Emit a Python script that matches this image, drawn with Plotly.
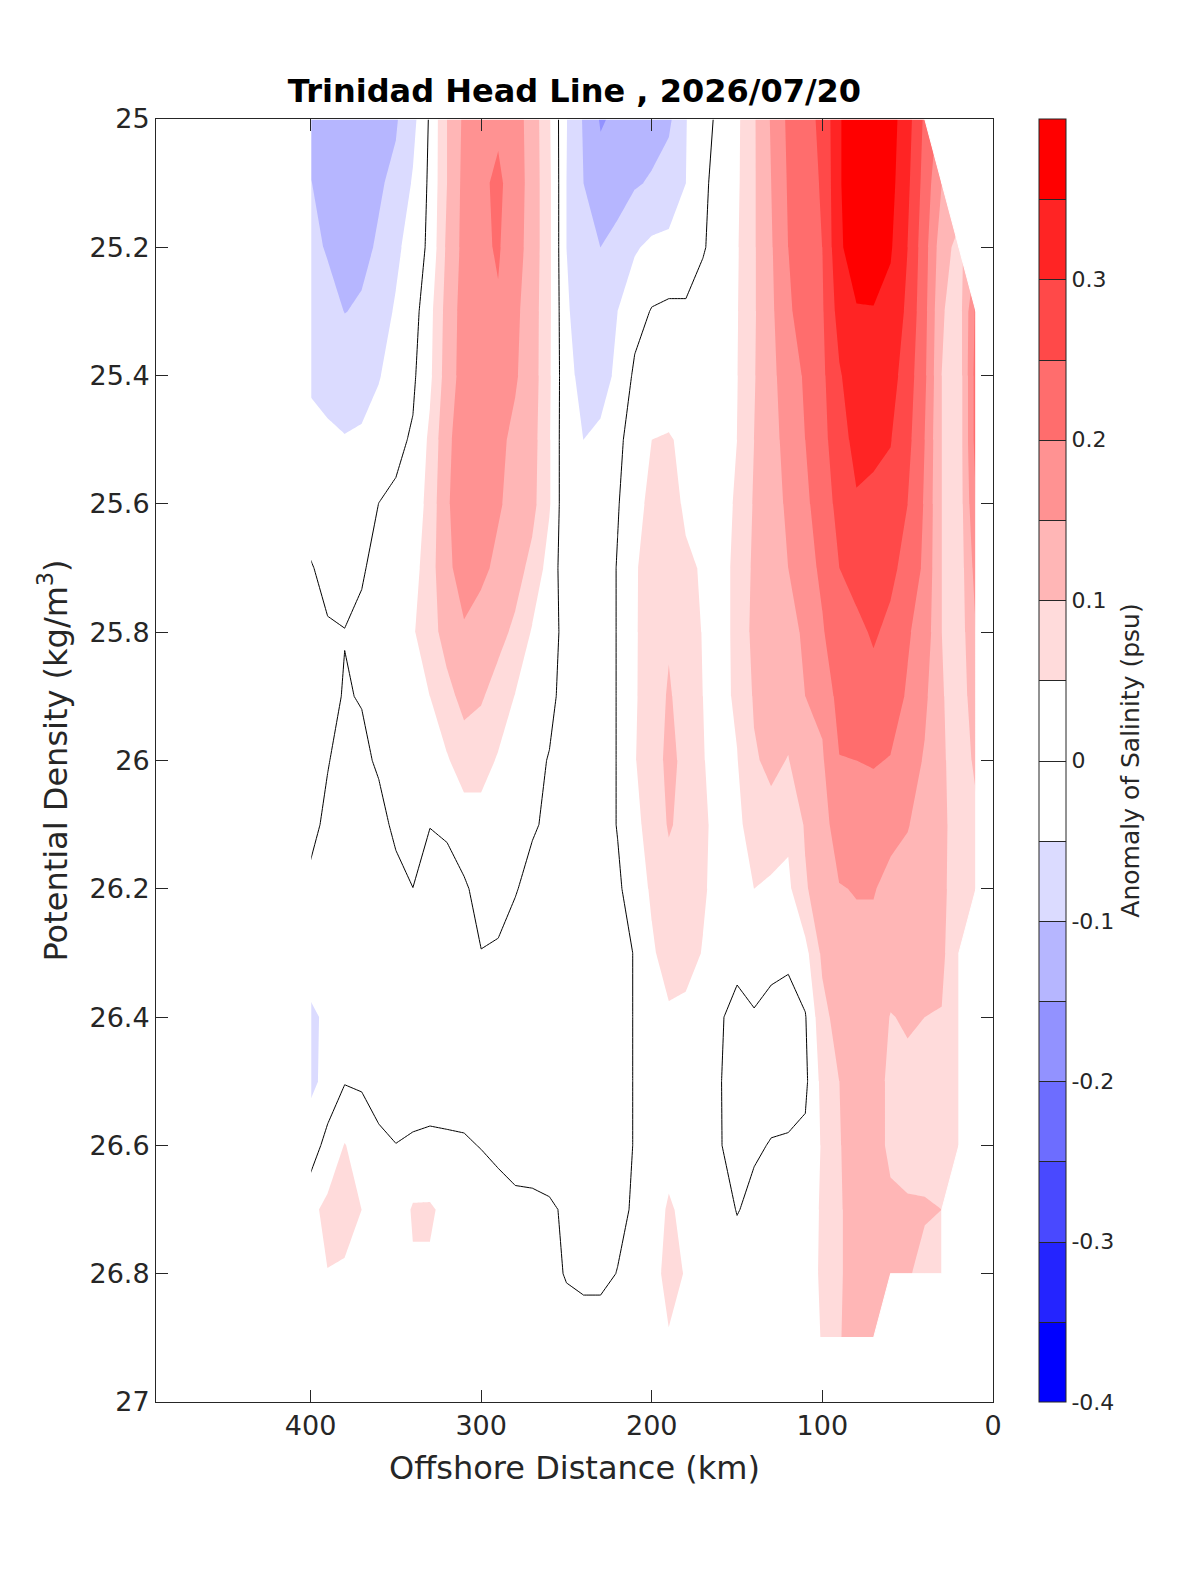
import numpy as np
import plotly.graph_objects as go

nan = float("nan")

# ---------------- data ----------------
distance_km = [400, 390, 380, 370, 360, 350, 340, 330, 320, 310,
               300, 290, 280, 270, 260, 250, 240, 230, 220, 210,
               200, 190, 180, 170, 160, 150, 140, 130, 120, 110,
               100, 90, 80, 70, 60, 50, 40, 30, 20, 10]

density_levels = [25.0, 25.1, 25.2, 25.3, 25.4, 25.5, 25.6, 25.7, 25.8, 25.9,
                  26.0, 26.1, 26.2, 26.3, 26.4, 26.5, 26.6, 26.7, 26.8, 26.9]

# salinity anomaly (psu) profile per station, one value per density level
anomaly_by_station = [
    [-0.125, -0.098, -0.085, -0.07, -0.055, -0.04, -0.02, 0.003, 0.02, 0.03, 0.025, 0.015, -0.012, -0.035, -0.055, -0.058, -0.03, 0.04, 0.03, 0.02],   # 400
    [-0.13, -0.12, -0.105, -0.08, -0.06, -0.045, -0.03, -0.012, 0.004, 0.01, 0.003, -0.012, -0.03, -0.04, -0.045, -0.04, 0.02, 0.06, 0.049, 0.03],      # 390
    [-0.14, -0.13, -0.115, -0.101, -0.07, -0.048, -0.03, -0.015, 0.001, -0.0025, -0.02, -0.035, -0.04, -0.045, -0.04, -0.003, 0.052, 0.065, 0.045, 0.03],  # 380
    [-0.135, -0.125, -0.11, -0.095, -0.065, -0.045, -0.025, -0.005, 0.01, 0.002, -0.008, -0.03, -0.04, -0.045, -0.04, -0.006, 0.03, 0.05, 0.035, 0.025],  # 370
    [-0.115, -0.105, -0.095, -0.07, -0.053, -0.03, 0.0005, 0.015, 0.025, 0.02, 0.005, -0.012, -0.03, -0.04, -0.035, -0.02, 0.01, 0.03, 0.02, 0.015],     # 360
    [-0.105, -0.09, -0.06, -0.045, -0.03, -0.01, 0.007, 0.025, 0.04, 0.035, 0.02, 0.008, -0.012, -0.03, -0.035, -0.03, 0.001, 0.02, 0.02, 0.015],        # 350
    [-0.065, -0.045, -0.03, -0.02, -0.008, 0.005, 0.015, 0.03, 0.045, 0.04, 0.03, 0.015, -0.0003, -0.02, -0.03, -0.03, 0.008, 0.055, 0.045, 0.02],       # 340
    [0.007, 0.01, 0.012, 0.035, 0.04, 0.06, 0.07, 0.08, 0.08, 0.05, 0.035, 0.0006, -0.01, -0.02, -0.03, -0.03, 0.013, 0.055, 0.045, 0.02],               # 330
    [0.1, 0.1, 0.11, 0.12, 0.125, 0.14, 0.145, 0.14, 0.12, 0.085, 0.045, 0.01, -0.026, -0.03, -0.03, -0.03, 0.01, 0.04, 0.035, 0.02],                    # 320
    [0.16, 0.165, 0.165, 0.17, 0.17, 0.175, 0.175, 0.17, 0.145, 0.115, 0.075, 0.025, -0.006, -0.025, -0.03, -0.025, 0.006, 0.03, 0.03, 0.02],            # 310
    [0.18, 0.19, 0.19, 0.19, 0.185, 0.18, 0.175, 0.16, 0.13, 0.105, 0.07, 0.03, 0.015, -0.001, -0.02, -0.025, -0.002, 0.03, 0.025, 0.02],                # 300
    [0.19, 0.21, 0.205, 0.195, 0.18, 0.16, 0.155, 0.14, 0.115, 0.08, 0.045, 0.02, 0.012, -0.0036, -0.02, -0.025, -0.01, 0.018, 0.02, 0.02],             # 290
    [0.17, 0.175, 0.17, 0.16, 0.155, 0.14, 0.135, 0.12, 0.09, 0.048, 0.025, 0.01, 0.003, -0.02, -0.025, -0.025, -0.02, 0.012, 0.02, 0.02],               # 280
    [0.13, 0.13, 0.13, 0.125, 0.125, 0.12, 0.115, 0.085, 0.045, 0.03, 0.01, 0.005, -0.015, -0.02, -0.025, -0.025, -0.02, 0.01, 0.02, 0.02],              # 270
    [0.055, 0.06, 0.06, 0.06, 0.058, 0.055, 0.055, 0.03, 0.025, 0.01, -0.002, -0.008, -0.02, -0.025, -0.03, -0.03, -0.04, 0.01, 0.02, 0.025],            # 260
    [-0.048, -0.05, -0.05, -0.045, -0.04, -0.04, -0.04, -0.03, -0.02, -0.015, -0.02, -0.02, -0.025, -0.03, -0.03, -0.025, -0.02, -0.01, -0.005, 0.03],   # 250
    [-0.105, -0.1, -0.085, -0.07, -0.06, -0.05, -0.04, -0.035, -0.03, -0.03, -0.03, -0.035, -0.035, -0.035, -0.035, -0.03, -0.025, -0.02, -0.02, 0.04],  # 240
    [-0.155, -0.13, -0.1, -0.075, -0.06, -0.045, -0.04, -0.03, -0.03, -0.03, -0.03, -0.03, -0.035, -0.04, -0.04, -0.035, -0.03, -0.025, -0.02, 0.04],    # 230
    [-0.14, -0.12, -0.085, -0.05, -0.045, -0.015, -0.003, 0.003, 0.003, 0.003, 0.003, 0.003, -0.01, -0.03, -0.03, -0.03, -0.03, -0.02, 0.0025, 0.03],    # 220
    [-0.13, -0.105, -0.055, -0.02, 0.01, 0.03, 0.03, 0.045, 0.045, 0.045, 0.048, 0.04, 0.03, 0.004, 0.004, 0.004, 0.004, 0.01, 0.02, 0.03],              # 210
    [-0.12, -0.095, -0.04, 0.003, 0.03, 0.05, 0.065, 0.07, 0.072, 0.075, 0.07, 0.065, 0.055, 0.045, 0.035, 0.025, 0.02, 0.03, 0.02, 0.03],               # 200
    [-0.11, -0.075, -0.04, 0.01, 0.035, 0.052, 0.075, 0.085, 0.095, 0.105, 0.115, 0.105, 0.08, 0.065, 0.045, 0.035, 0.035, 0.055, 0.075, 0.045],         # 190
    [-0.052, -0.05, -0.04, 0.01, 0.03, 0.045, 0.04, 0.06, 0.07, 0.08, 0.085, 0.085, 0.075, 0.065, 0.04, 0.03, 0.03, 0.04, 0.045, 0.035],                 # 180
    [-0.015, -0.01, -0.004, 0.02, 0.03, 0.035, 0.04, 0.045, 0.048, 0.05, 0.052, 0.055, 0.055, 0.048, 0.035, 0.03, 0.03, 0.03, 0.03, 0.03],               # 170
    [0.01, 0.02, 0.02, 0.03, 0.03, 0.035, 0.035, 0.035, 0.035, 0.035, 0.035, 0.04, 0.035, 0.03, 0.003, 0.002, 0.002, 0.02, 0.03, 0.03],                  # 160
    [0.04, 0.042, 0.045, 0.047, 0.048, 0.05, 0.055, 0.06, 0.06, 0.058, 0.048, 0.035, 0.025, 0.01, -0.01, -0.02, -0.015, -0.002, 0.02, 0.02],             # 150
    [0.095, 0.095, 0.095, 0.095, 0.097, 0.1, 0.105, 0.11, 0.115, 0.105, 0.095, 0.08, 0.05, 0.03, -0.005, -0.012, -0.005, 0.01, 0.02, 0.02],              # 140
    [0.155, 0.15, 0.145, 0.14, 0.135, 0.13, 0.125, 0.125, 0.12, 0.115, 0.11, 0.085, 0.04, 0.015, -0.015, -0.015, 0.002, 0.02, 0.03, 0.03],               # 130
    [0.21, 0.205, 0.2, 0.195, 0.18, 0.17, 0.16, 0.15, 0.13, 0.12, 0.098, 0.06, 0.04, 0.01, -0.02, -0.02, 0.005, 0.02, 0.03, 0.03],                       # 120
    [0.235, 0.23, 0.225, 0.215, 0.205, 0.2, 0.19, 0.18, 0.16, 0.15, 0.13, 0.105, 0.095, 0.035, -0.003, -0.01, 0.01, 0.03, 0.035, 0.035],                 # 110
    [0.26, 0.255, 0.25, 0.245, 0.24, 0.235, 0.225, 0.21, 0.195, 0.16, 0.145, 0.135, 0.125, 0.11, 0.085, 0.065, 0.055, 0.055, 0.055, 0.052],              # 100
    [0.345, 0.345, 0.34, 0.32, 0.295, 0.28, 0.265, 0.25, 0.235, 0.22, 0.198, 0.17, 0.148, 0.14, 0.12, 0.1, 0.097, 0.095, 0.095, 0.098],                  # 90
    [0.39, 0.39, 0.385, 0.345, 0.33, 0.315, 0.295, 0.265, 0.24, 0.225, 0.2, 0.175, 0.152, 0.14, 0.13, 0.125, 0.125, 0.12, 0.12, 0.115],                  # 80
    [0.39, 0.39, 0.38, 0.347, 0.335, 0.31, 0.29, 0.275, 0.255, 0.235, 0.203, 0.18, 0.152, 0.14, 0.125, 0.12, 0.12, 0.115, 0.11, 0.105],                  # 70
    [0.37, 0.365, 0.355, 0.335, 0.32, 0.302, 0.285, 0.26, 0.24, 0.22, 0.198, 0.16, 0.14, 0.125, 0.098, 0.09, 0.09, 0.11, 0.105, nan],                    # 60
    [0.32, 0.31, 0.3, 0.29, 0.275, 0.265, 0.25, 0.235, 0.205, 0.195, 0.175, 0.152, 0.135, 0.125, 0.105, 0.09, 0.085, 0.105, 0.105, nan],                 # 50
    [0.24, 0.23, 0.22, 0.215, 0.21, 0.2, 0.195, 0.19, 0.18, 0.16, 0.145, 0.135, 0.125, 0.12, 0.1, 0.08, 0.08, 0.105, 0.085, nan],                        # 40
    [nan, 0.15, 0.12, 0.105, 0.1, 0.1, 0.1, 0.1, 0.1, 0.105, 0.11, 0.115, 0.115, 0.11, 0.098, 0.075, 0.075, 0.1, 0.075, nan],                            # 30
    [nan, nan, 0.085, 0.075, 0.07, 0.07, 0.07, 0.07, 0.07, 0.07, 0.07, 0.07, 0.065, 0.06, 0.058, 0.055, 0.052, nan, nan, nan],                           # 20
    [nan, nan, nan, 0.21, 0.22, 0.22, 0.2, 0.17, 0.15, 0.13, 0.11, 0.09, 0.06, nan, nan, nan, nan, nan, nan, nan],                                       # 10
]

# colour of each 0.05 psu band from -0.4 to 0.4
band_colors = ["rgb(0,0,255)", "rgb(36,36,255)", "rgb(73,73,255)", "rgb(109,109,255)",
               "rgb(146,146,255)", "rgb(182,182,255)", "rgb(219,219,255)", "rgb(255,255,255)",
               "rgb(255,255,255)", "rgb(255,219,219)", "rgb(255,182,182)", "rgb(255,146,146)",
               "rgb(255,109,109)", "rgb(255,73,73)", "rgb(255,36,36)", "rgb(255,0,0)"]

colorbar_tickvals = [-0.4, -0.3, -0.2, -0.1, 0, 0.1, 0.2, 0.3]
colorbar_ticktext = ["-0.4", "-0.3", "-0.2", "-0.1", "0", "0.1", "0.2", "0.3"]
density_tickvals = [25.0, 25.2, 25.4, 25.6, 25.8, 26.0, 26.2, 26.4, 26.6, 26.8, 27.0]
density_ticktext = ["25", "25.2", "25.4", "25.6", "25.8", "26", "26.2", "26.4", "26.6", "26.8", "27"]
distance_tickvals = [400, 300, 200, 100, 0]
distance_ticktext = ["400", "300", "200", "100", "0"]

# ---------------- build ----------------
FONT = "DejaVu Sans"
AX = "#262626"

z = np.array(anomaly_by_station, dtype=float).T          # rows = density, cols = station
x_plot = np.array(distance_km[::-1], dtype=float)          # ascending distance
z_plot = z[:, ::-1]
y_plot = np.array(density_levels, dtype=float)
z_list = [[None if np.isnan(v) else float(v) for v in row] for row in z_plot]

n = len(band_colors)
colorscale = [[k / (n - 1), c] for k, c in enumerate(band_colors)]

fig = go.Figure()

# filled anomaly field
fig.add_trace(go.Contour(
    x=x_plot, y=y_plot, z=z_list,
    autocontour=False,
    contours=dict(start=-0.35, end=0.35, size=0.05, coloring="fill", showlines=False),
    colorscale=colorscale, zauto=False, zmin=-0.4, zmax=0.4,
    line=dict(width=0, smoothing=0),
    showscale=False, hoverinfo="skip",
))

# zero anomaly contour line
fig.add_trace(go.Contour(
    x=x_plot, y=y_plot, z=z_list,
    autocontour=False,
    contours=dict(start=0, end=0, size=1, coloring="none", showlines=True),
    line=dict(color="black", width=1, smoothing=0),
    showscale=False, hoverinfo="skip",
))

# blank out cells without data (same rule as a triangulated contour fill)
missing = np.isnan(z_plot)
mx, my = [], []
for i in range(len(y_plot) - 1):
    for j in range(len(x_plot) - 1):
        corners = [(j, i), (j + 1, i), (j + 1, i + 1), (j, i + 1)]
        flags = [bool(missing[ci, cj]) for (cj, ci) in corners]
        cnt = sum(flags)
        if cnt == 0:
            continue
        if cnt == 1:
            k = flags.index(True)
            pts = [corners[(k - 1) % 4], corners[k], corners[(k + 1) % 4]]
        else:
            pts = corners
        for (cj, ci) in pts + [pts[0]]:
            mx.append(float(x_plot[cj]))
            my.append(float(y_plot[ci]))
        mx.append(None)
        my.append(None)

fig.add_trace(go.Scatter(
    x=mx, y=my, mode="lines", fill="toself", fillcolor="white",
    line=dict(color="white", width=1), hoverinfo="skip", showlegend=False,
))

# clean the anti-aliased rim of the data grid
x0, x1 = float(x_plot.min()), float(x_plot.max())
y0, y1 = float(y_plot.min()), float(y_plot.max())
fig.add_trace(go.Scatter(
    x=[x0, x1, x1, x0, x0], y=[y1, y1, y0, y0, y1], mode="lines",
    line=dict(color="white", width=1.5), hoverinfo="skip", showlegend=False,
))

# margins (page body adds a small offset, compensated here)
ML, MR, MT, MB = 148, 215, 111, 181
plot_w = 1200 - ML - MR

# colour bar (drawn from a trace placed outside the visible range)
fig.add_trace(go.Contour(
    x=[1000, 1001], y=[30, 31], z=[[-0.4, 0.4], [-0.4, 0.4]],
    autocontour=False,
    contours=dict(start=-0.35, end=0.35, size=0.05, coloring="fill", showlines=True),
    colorscale=colorscale, zauto=False, zmin=-0.4, zmax=0.4,
    line=dict(color=AX, width=1, smoothing=0),
    hoverinfo="skip", showscale=True,
    colorbar=dict(
        x=(1030.5 - ML) / plot_w, xanchor="left", y=0.5, yanchor="middle",
        len=1, lenmode="fraction", thickness=27, thicknessmode="pixels",
        xpad=0, ypad=0, outlinecolor=AX, outlinewidth=1,
        tickmode="array", tickvals=colorbar_tickvals, ticktext=colorbar_ticktext,
        ticks="", tickfont=dict(family=FONT, size=22, color=AX),
        title=dict(text="Anomaly of Salinity (psu)", side="right",
                   font=dict(family=FONT, size=25, color=AX)),
    ),
))

fig.update_layout(
    width=1200, height=1575,
    margin=dict(l=ML, r=MR, t=MT, b=MB, autoexpand=False),
    paper_bgcolor="white", plot_bgcolor="white",
    font=dict(family=FONT, color=AX),
    showlegend=False,
    title=dict(text="<b>Trinidad Head Line , 2026/07/20</b>",
               font=dict(family=FONT, size=32, color="black"),
               x=0.5, xref="paper", xanchor="center",
               y=1 - 83 / 1575, yref="container", yanchor="middle"),
    xaxis=dict(
        range=[(989 - 155) / 1.7, 0], autorange=False,
        tickmode="array", tickvals=distance_tickvals, ticktext=distance_ticktext,
        ticks="inside", ticklen=12, tickwidth=1, tickcolor=AX,
        showline=True, linecolor=AX, linewidth=1, mirror="ticks",
        showgrid=False, zeroline=False,
        tickfont=dict(family=FONT, size=27, color=AX),
        title=dict(text="Offshore Distance (km)", font=dict(family=FONT, size=32, color=AX),
                   standoff=16),
    ),
    yaxis=dict(
        range=[27, 25], autorange=False,
        tickmode="array", tickvals=density_tickvals, ticktext=density_ticktext,
        ticks="inside", ticklen=12, tickwidth=1, tickcolor=AX,
        showline=True, linecolor=AX, linewidth=1, mirror="ticks",
        showgrid=False, zeroline=False,
        tickfont=dict(family=FONT, size=27, color=AX),
        title=dict(text="Potential Density (kg/m<sup>3</sup>)",
                   font=dict(family=FONT, size=32, color=AX), standoff=12),
    ),
)

fig.write_html("out.html")
